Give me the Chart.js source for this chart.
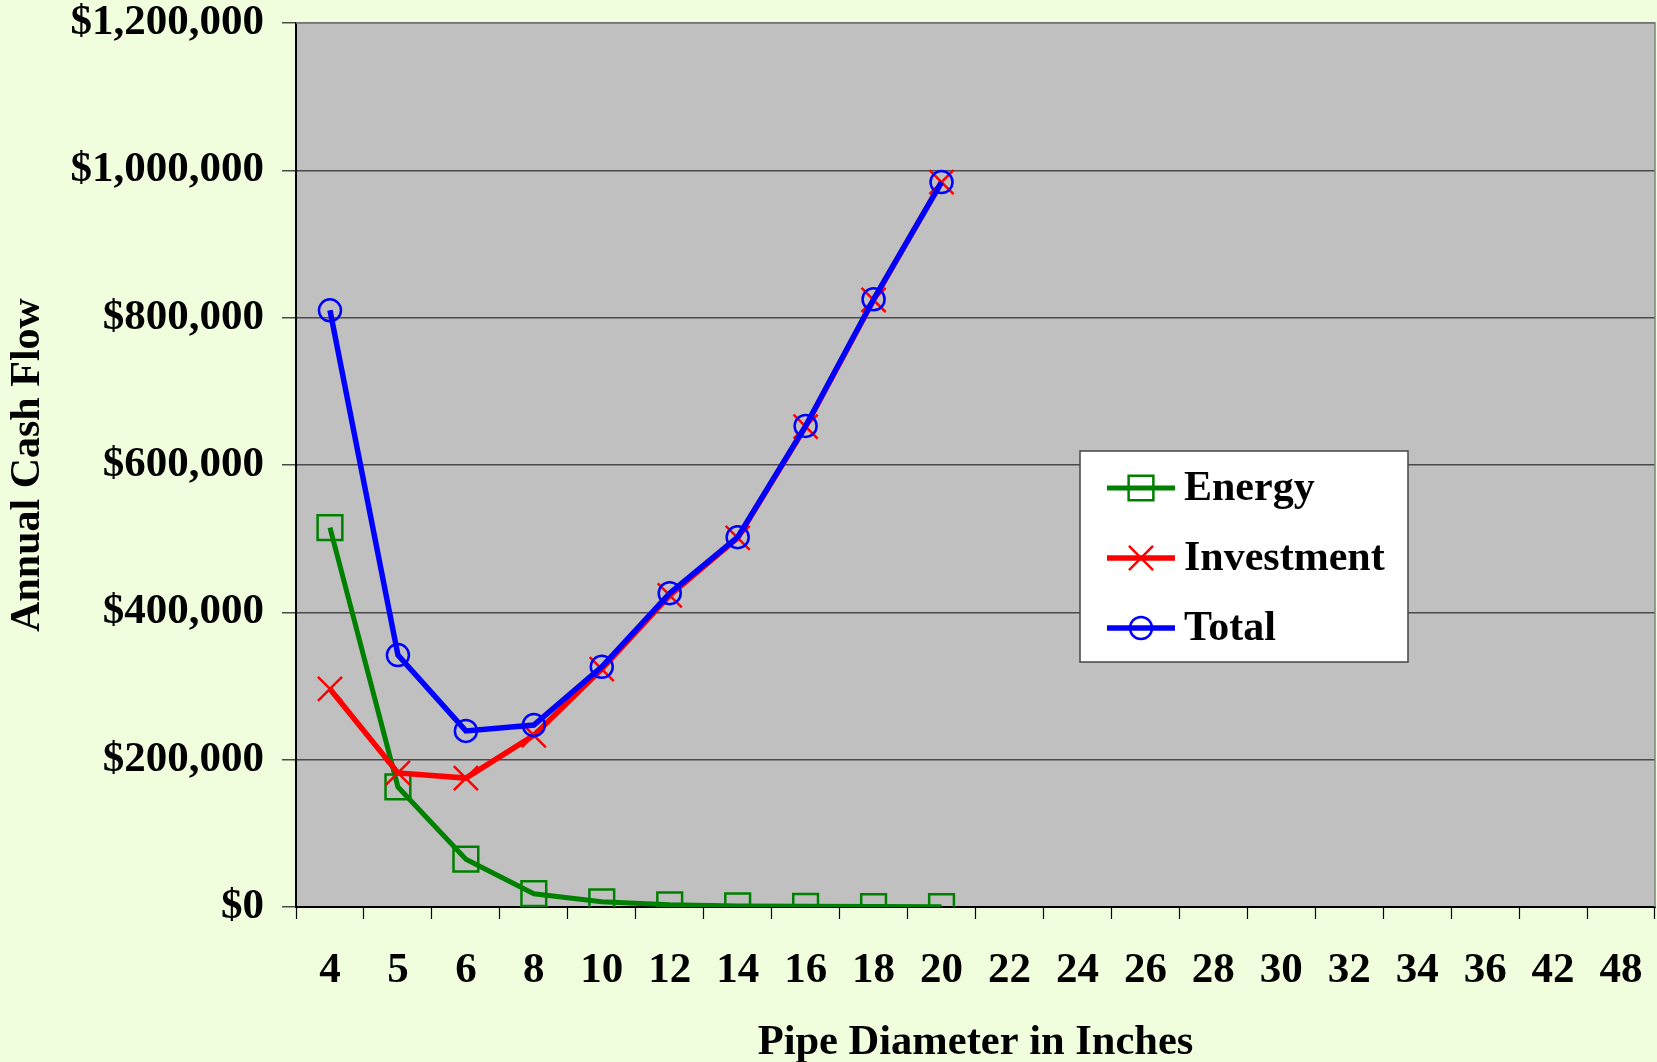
<!DOCTYPE html>
<html>
<head>
<meta charset="utf-8">
<script src="https://cdn.jsdelivr.net/npm/chart.js@4.4.1/dist/chart.umd.min.js"></script>
<style>
  html, body { margin: 0; padding: 0; background: #F0FEDE; overflow: hidden; }
  #wrap { width: 1657px; height: 1062px; position: relative; }
  canvas { display: block; }
</style>
</head>
<body>
<div id="wrap"><canvas id="chart"></canvas></div>
<script>
// pipe diameters (inches)
const categories = ['4', '5', '6', '8', '10', '12', '14', '16', '18', '20',
    '22', '24', '26', '28', '30', '32', '34', '36', '42', '48'];

// annual cash flow, $
const energy = [515000, 163000, 65000, 18000, 7000, 3000, 1500, 1000, 600, 400];
const investment = [296000, 182000, 175000, 233000, 323000, 423000, 501000, 652000, 824000, 984000];
const total = [810000, 342000, 239000, 247000, 326000, 426000, 502000, 653000, 825000, 984000];

const yTicks = [0, 200000, 400000, 600000, 800000, 1000000, 1200000];

const FONT = "'Liberation Serif', 'Times New Roman', serif";

function money(v) {
    return '$' + Number(v).toLocaleString('en-US');
}

// grey plot area + frame
const plotBg = {
    id: 'plotBg',
    beforeDraw(chart) {
        const { ctx, chartArea: a } = chart;
        ctx.save();
        ctx.fillStyle = '#C0C0C0';
        ctx.fillRect(a.left, a.top, a.right - a.left, a.bottom - a.top);
        ctx.restore();
    },
    afterDatasetsDraw(chart) {
        const { ctx, chartArea: a } = chart;
        ctx.save();
        ctx.strokeStyle = '#808080';
        ctx.lineWidth = 1.5;
        ctx.beginPath();
        ctx.moveTo(a.left, a.top);
        ctx.lineTo(a.right, a.top);
        ctx.lineTo(a.right, a.bottom);
        ctx.stroke();
        ctx.restore();
    }
};

// boxed legend inside the plot
const boxLegend = {
    id: 'boxLegend',
    afterDraw(chart) {
        const { ctx } = chart;
        const bx = 1080, by = 451, bw = 328, bh = 211;
        ctx.save();
        ctx.fillStyle = '#FFFFFF';
        ctx.fillRect(bx, by, bw, bh);
        ctx.strokeStyle = '#444444';
        ctx.lineWidth = 1.5;
        ctx.strokeRect(bx, by, bw, bh);
        chart.data.datasets.forEach((ds, i) => {
            const y = by + 37 + i * 70;
            ctx.strokeStyle = ds.borderColor;
            ctx.lineWidth = ds.borderWidth;
            ctx.beginPath();
            ctx.moveTo(1107, y);
            ctx.lineTo(1175, y);
            ctx.stroke();
            ctx.fillStyle = 'rgba(0,0,0,0)';
            ctx.strokeStyle = ds.pointBorderColor;
            ctx.lineWidth = ds.pointBorderWidth;
            Chart.helpers.drawPoint(ctx, {
                pointStyle: ds.pointStyle,
                radius: ds.pointRadius,
                rotation: 0,
                borderWidth: ds.pointBorderWidth
            }, 1141, y);
            ctx.fillStyle = '#000';
            ctx.font = 'bold 42px ' + FONT;
            ctx.textBaseline = 'middle';
            ctx.textAlign = 'left';
            ctx.fillText(ds.label, 1184, y + 1);
        });
        ctx.restore();
    }
};

const ctx = document.getElementById('chart').getContext('2d');
new Chart(ctx, {
    type: 'line',
    data: {
        labels: categories,
        datasets: [{
            label: 'Energy',
            data: energy,
            borderColor: '#008000',
            borderWidth: 5,
            pointStyle: 'rect',
            pointRadius: 17.5,
            pointBorderColor: '#008000',
            pointBorderWidth: 2.5,
            pointBackgroundColor: 'rgba(0,0,0,0)',
            tension: 0,
            order: 3
        }, {
            label: 'Investment',
            data: investment,
            borderColor: '#FF0000',
            borderWidth: 5.5,
            pointStyle: 'crossRot',
            pointRadius: 17,
            pointBorderColor: '#FF0000',
            pointBorderWidth: 2.5,
            pointBackgroundColor: 'rgba(0,0,0,0)',
            tension: 0,
            order: 2
        }, {
            label: 'Total',
            data: total,
            borderColor: '#0000FF',
            borderWidth: 5.5,
            pointStyle: 'circle',
            pointRadius: 11,
            pointBorderColor: '#0000FF',
            pointBorderWidth: 2.5,
            pointBackgroundColor: 'rgba(0,0,0,0)',
            tension: 0,
            order: 1
        }]
    },
    options: {
        responsive: true,
        maintainAspectRatio: false,
        animation: false,
        layout: {
            autoPadding: false,
            padding: { top: 23, right: 2, left: 0, bottom: 0 }
        },
        plugins: {
            legend: { display: false },
            tooltip: { enabled: false }
        },
        scales: {
            x: {
                offset: true,
                grid: {
                    offset: true,
                    drawOnChartArea: false,
                    color: '#000',
                    tickLength: 12,
                    tickWidth: 1.2
                },
                border: { color: '#000', width: 2 },
                ticks: {
                    color: '#000',
                    font: { family: FONT, size: 43, weight: 'bold' },
                    padding: 26,
                    maxRotation: 0,
                    autoSkip: false
                },
                title: {
                    display: true,
                    text: 'Pipe Diameter in Inches',
                    color: '#000',
                    font: { family: FONT, size: 42.5, weight: 'bold' },
                    padding: { top: 0, bottom: -7 }
                },
                afterFit(scale) {
                    scale.height = 155;
                    scale.paddingLeft = 0;
                    scale.paddingRight = 0;
                }
            },
            y: {
                min: 0,
                max: 1200000,
                afterBuildTicks(scale) {
                    scale.ticks = yTicks.map(v => ({ value: v }));
                },
                grid: {
                    color: '#4a4a4a',
                    lineWidth: 1.5,
                    tickLength: 14,
                    tickColor: '#4a4a4a'
                },
                border: { color: '#000', width: 2 },
                ticks: {
                    color: '#000',
                    font: { family: FONT, size: 43, weight: 'bold' },
                    padding: 18,
                    callback: v => money(v)
                },
                title: {
                    display: true,
                    text: 'Annual Cash Flow',
                    color: '#000',
                    font: { family: FONT, size: 42, weight: 'bold' },
                    padding: { top: 3, bottom: 0 }
                },
                afterFit(scale) {
                    scale.width = 296;
                    scale.paddingTop = 0;
                    scale.paddingBottom = 0;
                }
            }
        }
    },
    plugins: [plotBg, boxLegend]
});
</script>
</body>
</html>
